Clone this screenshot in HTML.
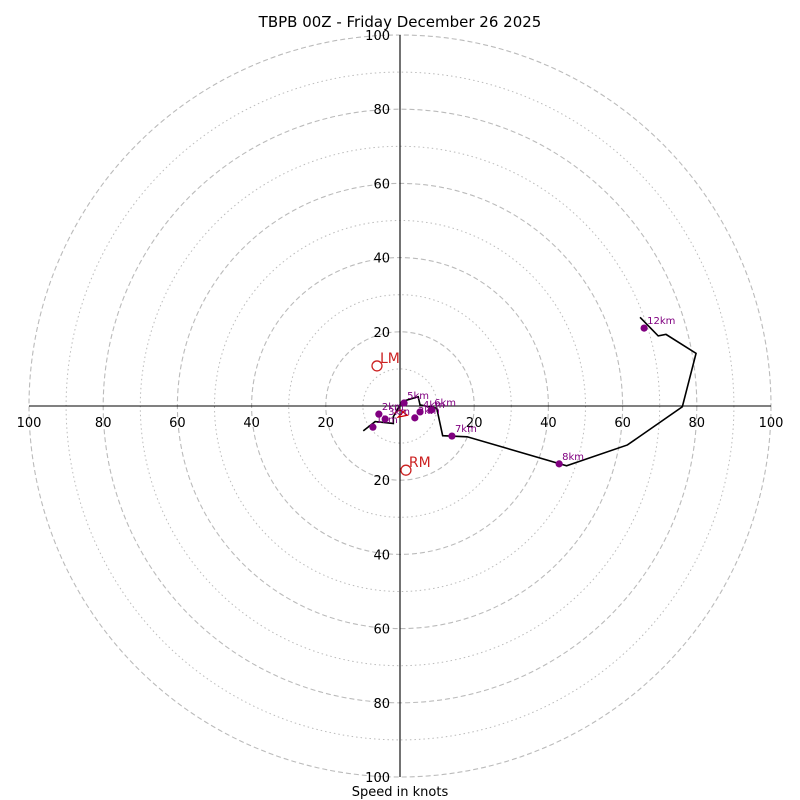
<!DOCTYPE html>
<html><head><meta charset="utf-8"><style>
html,body{margin:0;padding:0;background:#fff;}
svg{display:block;font-family:"DejaVu Sans","Liberation Sans",sans-serif;}
</style></head><body>
<svg id="chart" width="800" height="800" viewBox="0 0 800 800">
<text x="400" y="27" text-anchor="middle" font-size="15">TBPB 00Z - Friday December 26 2025</text>
<text x="400" y="796" text-anchor="middle" font-size="13">Speed in knots</text>
<g id="grid"></g>
<g id="axes"></g>
<g id="marks"></g>
</svg>
<script>
const ringValues=[10,20,30,40,50,60,70,80,90,100];
const tickLabels=[20,40,60,80,100];
const hodoU=[-9.9,-6.7,-1.8,-1.8,0.5,4.9,5.4,9.9,11.5,18.1,44.9,61.3,76.1,79.8,71.7,69.6,64.7];
const hodoV=[-6.7,-4.2,-4.7,-2.9,1.2,2.5,0.3,-0.6,-8.0,-8.3,-16.1,-10.5,-0.2,14.2,19.3,18.9,23.9];
const markerLabels=["1km","2km","3km","3km","4km","5km","6km","7km","8km","12km"];
const markerU=[-7.3,-5.7,-4.0,4.0,5.4,1.1,8.4,14.0,42.9,65.8];
const markerV=[-5.7,-2.2,-3.5,-3.2,-1.6,0.8,-1.1,-8.1,-15.6,21.0];
const stormLabels=["LM","RM"];
const stormU=[-6.2,1.6];
const stormV=[10.8,-17.3];
const cx=400,cy=406,k=3.71;
const X=u=>cx+u*k, Y=v=>cy-v*k;
const NS="http://www.w3.org/2000/svg";
function mk(tag,parent,attrs){const e=document.createElementNS(NS,tag);for(const a in attrs)e.setAttribute(a,attrs[a]);parent.appendChild(e);return e;}
const grid=document.getElementById('grid'),axes=document.getElementById('axes'),marks=document.getElementById('marks');
ringValues.forEach(r=>{
  const c=mk('circle',grid,{cx:cx,cy:cy,r:r*k,fill:'none',stroke:'#bbb','stroke-width':r%20===0?1.1:1,'stroke-dasharray':r%20===0?'5,3':'1.5,3'});
  
  
});
mk('line',axes,{x1:X(-100),y1:cy,x2:X(100),y2:cy,stroke:'#000','stroke-width':1.1});
mk('line',axes,{x1:cx,y1:Y(100),x2:cx,y2:Y(-100),stroke:'#000','stroke-width':1.1});
tickLabels.forEach(t=>{
  [[X(t),cy+21,'middle'],[X(-t),cy+21,'middle'],[cx-10,Y(t)+5,'end'],[cx-10,Y(-t)+5,'end']].forEach(p=>{
    const e=mk('text',axes,{x:p[0],y:p[1],'text-anchor':p[2],'font-size':13});
    e.textContent=t;
    
    
  });
});
const pts=hodoU.map((u,i)=>X(u)+','+Y(hodoV[i])).join(' ');
const pl=mk('polyline',marks,{points:pts,fill:'none',stroke:'#000','stroke-width':1.6});


const rp=mk('polyline',marks,{points:`${X(-1.5)},${Y(-2)} ${X(0)},${Y(-1)} ${X(2)},${Y(-2.5)} ${X(-0.5)},${Y(-3)} ${X(1.5)},${Y(-1)}`,fill:'none',stroke:'#c00','stroke-width':1.2});


markerLabels.forEach((l,i)=>{
  const c=mk('circle',marks,{cx:X(markerU[i]),cy:Y(markerV[i]),r:3.6,fill:'purple'});
  
  
  const t=mk('text',marks,{x:X(markerU[i])+3,y:Y(markerV[i])-4,'font-size':10,fill:'purple'});
  t.textContent=l;
  
  
});
stormLabels.forEach((l,i)=>{
  const c=mk('circle',marks,{cx:X(stormU[i]),cy:Y(stormV[i]),r:5,fill:'none',stroke:'#c22','stroke-width':1.3});
  
  
  const t=mk('text',marks,{x:X(stormU[i])+3,y:Y(stormV[i])-3,'font-size':14,fill:'#c22'});
  t.textContent=l;
  
  
});
</script>
</body></html>
